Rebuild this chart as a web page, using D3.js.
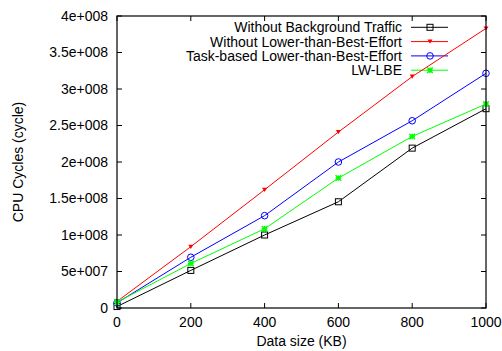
<!DOCTYPE html>
<html>
<head>
<meta charset="utf-8">
<script src="https://cdn.jsdelivr.net/npm/d3@7"></script>
<style>
  body { margin: 0; background: #fff; }
  svg text { font-family: "Liberation Sans", Arial, sans-serif; font-size: 14px; fill: #000; }
</style>
</head>
<body>
<svg width="502" height="351"></svg>
<script>
// data
var sizes = [0, 200, 400, 600, 800, 1000];
var noTraffic = [2e6, 5.15e7, 1.0e8, 1.455e8, 2.19e8, 2.73e8];
var noLbe = [9e6, 8.4e7, 1.62e8, 2.41e8, 3.17e8, 3.83e8];
var taskLbe = [7e6, 6.95e7, 1.265e8, 2.0e8, 2.565e8, 3.215e8];
var lwLbe = [8e6, 6.1e7, 1.085e8, 1.78e8, 2.35e8, 2.795e8];
var seriesNames = ["Without Background Traffic", "Without Lower-than-Best-Effort",
                   "Task-based Lower-than-Best-Effort", "LW-LBE"];
var xTicks = [0, 200, 400, 600, 800, 1000];
var yTicks = [0, 5e7, 1e8, 1.5e8, 2e8, 2.5e8, 3e8, 3.5e8, 4e8];

var svg = d3.select("svg"),
    margin = {top: 16, right: 16, bottom: 43, left: 117},
    width = 502 - margin.left - margin.right,
    height = 351 - margin.top - margin.bottom,
    g = svg.append("g").attr("transform", "translate(" + margin.left + "," + margin.top + ")");

var x = d3.scaleLinear().domain([0, 1000]).range([0, width]),
    y = d3.scaleLinear().domain([0, 4e8]).range([height, 0]);

var series = [
  {name: seriesNames[0], values: noTraffic, color: "#000000", mark: "square"},
  {name: seriesNames[1], values: noLbe, color: "#ff0000", mark: "tri"},
  {name: seriesNames[2], values: taskLbe, color: "#0000ff", mark: "circle"},
  {name: seriesNames[3], values: lwLbe, color: "#00ff00", mark: "star"}
];

function fmtY(v) {
  if (v === 0) return "0";
  var e = Math.floor(Math.log10(v) + 1e-9);
  var m = v / Math.pow(10, e);
  return (+m.toFixed(2)) + "e+" + d3.format("03d")(e);
}

// ticks, gnuplot style: inward on all four sides
var tickLen = 5;
var ticks = g.append("g").attr("stroke", "#000").attr("stroke-width", 1);
xTicks.forEach(function(t) {
  ticks.append("line").attr("x1", x(t)).attr("x2", x(t)).attr("y1", height).attr("y2", height - tickLen);
  ticks.append("line").attr("x1", x(t)).attr("x2", x(t)).attr("y1", 0).attr("y2", tickLen);
});
yTicks.forEach(function(t) {
  ticks.append("line").attr("x1", 0).attr("x2", tickLen).attr("y1", y(t)).attr("y2", y(t));
  ticks.append("line").attr("x1", width).attr("x2", width - tickLen).attr("y1", y(t)).attr("y2", y(t));
});

g.selectAll(".xlab").data(xTicks).enter().append("text")
  .attr("x", function(d) { return x(d); })
  .attr("y", height + 19)
  .attr("text-anchor", "middle")
  .text(function(d) { return d; });

g.selectAll(".ylab").data(yTicks).enter().append("text")
  .attr("x", -9)
  .attr("y", function(d) { return y(d); })
  .attr("dy", "0.35em")
  .attr("text-anchor", "end")
  .text(fmtY);

g.append("text")
  .attr("x", width / 2)
  .attr("y", height + 38)
  .attr("text-anchor", "middle")
  .text("Data size (KB)");

svg.append("text")
  .attr("transform", "translate(23," + (margin.top + height / 2) + ") rotate(-90)")
  .attr("text-anchor", "middle")
  .text("CPU Cycles (cycle)");

function drawMark(sel, kind, cx, cy, color) {
  if (kind === "square") {
    sel.append("rect").attr("x", cx - 3).attr("y", cy - 3).attr("width", 6).attr("height", 6)
      .attr("fill", "none").attr("stroke", color).attr("stroke-width", 1);
  } else if (kind === "tri") {
    sel.append("path")
      .attr("d", "M" + (cx - 2.5) + "," + (cy - 2) + "L" + (cx + 2.5) + "," + (cy - 2) + "L" + cx + "," + (cy + 2.2) + "Z")
      .attr("fill", color);
  } else if (kind === "circle") {
    sel.append("circle").attr("cx", cx).attr("cy", cy).attr("r", 3.3)
      .attr("fill", "none").attr("stroke", color).attr("stroke-width", 1);
  } else {
    var s = 2.8;
    sel.append("path")
      .attr("d", "M" + (cx - s) + "," + (cy - s) + "L" + (cx + s) + "," + (cy + s) +
                 "M" + (cx - s) + "," + (cy + s) + "L" + (cx + s) + "," + (cy - s) +
                 "M" + (cx - s) + "," + cy + "L" + (cx + s) + "," + cy +
                 "M" + cx + "," + (cy - s) + "L" + cx + "," + (cy + s))
      .attr("stroke", color).attr("stroke-width", 1.4).attr("fill", "none");
  }
}

var line = d3.line()
  .x(function(d, i) { return x(sizes[i]); })
  .y(function(d) { return y(d); });

// legend
var legend = g.append("g");
series.forEach(function(s, i) {
  var ly = 11.3 + i * 14.3;
  legend.append("text")
    .attr("x", 402 - margin.left)
    .attr("y", ly)
    .attr("dy", "0.35em")
    .attr("text-anchor", "end")
    .text(s.name);
  legend.append("line")
    .attr("x1", 411 - margin.left).attr("x2", 448 - margin.left)
    .attr("y1", ly).attr("y2", ly)
    .attr("stroke", s.color).attr("stroke-width", 1);
  drawMark(legend, s.mark, 430 - margin.left, ly, s.color);
});

series.forEach(function(s) {
  g.append("path")
    .attr("d", line(s.values))
    .attr("fill", "none")
    .attr("stroke", s.color)
    .attr("stroke-width", 1);
  var mg = g.append("g");
  s.values.forEach(function(v, i) {
    drawMark(mg, s.mark, x(sizes[i]), y(v), s.color);
  });
});

// frame
g.append("rect")
  .attr("width", width).attr("height", height)
  .attr("fill", "none").attr("stroke", "#000").attr("stroke-width", 1.2);
</script>
</body>
</html>
